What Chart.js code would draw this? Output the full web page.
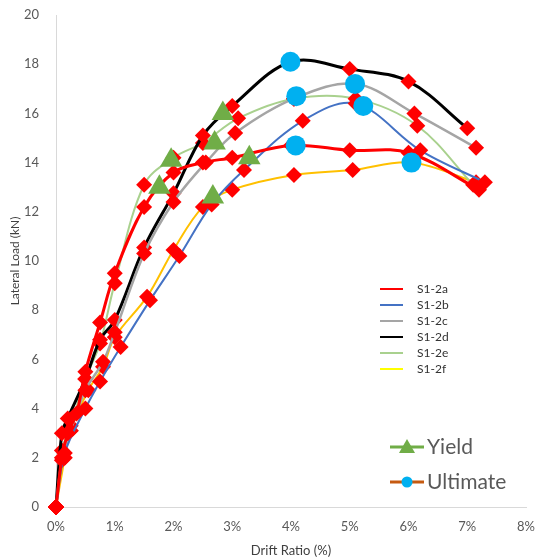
<!DOCTYPE html>
<html>
<head>
<meta charset="utf-8">
<script src="https://cdn.jsdelivr.net/npm/chart.js@4/dist/chart.umd.min.js"></script>
<style>
  html, body { margin: 0; padding: 0; background: #fff; }
  #wrap { width: 539px; height: 559px; }
</style>
</head>
<body>
<div id="wrap"><canvas id="chart" width="539" height="559"></canvas></div>
<script>
// drift ratio (%) and lateral load (kN) for each specimen
const seriesNames = ['S1-2a', 'S1-2b', 'S1-2c', 'S1-2d', 'S1-2e', 'S1-2f'];

const driftA = [0, 0.1, 0.2, 0.35, 0.5, 0.75, 1.0, 1.5, 2.0, 2.5, 3.0, 4.0, 5.0, 6.0, 7.2];
const loadA  = [0, 2.0, 3.0, 3.8, 5.5, 7.5, 9.5, 12.2, 13.6, 14.0, 14.2, 14.7, 14.5, 14.4, 12.9];

const driftB = [0, 0.15, 0.5, 0.75, 1.1, 1.6, 2.1, 2.65, 3.2, 4.2, 5.1, 6.2, 7.3];
const loadB  = [0, 2.2, 4.0, 5.1, 6.5, 8.4, 10.2, 12.3, 13.7, 15.7, 16.4, 14.5, 13.2];

const driftC = [0, 0.1, 0.25, 0.5, 0.8, 1.0, 1.5, 2.0, 2.55, 3.05, 4.05, 5.1, 6.1, 7.15];
const loadC  = [0, 1.9, 3.1, 4.75, 5.9, 7.1, 10.3, 12.4, 14.0, 15.2, 16.6, 17.2, 16.0, 14.6];

const driftD = [0, 0.1, 0.2, 0.5, 0.75, 1.0, 1.5, 2.0, 2.5, 3.0, 4.0, 5.0, 6.0, 7.0];
const loadD  = [0, 3.0, 3.6, 5.2, 6.8, 7.6, 10.55, 12.75, 15.1, 16.3, 18.1, 17.8, 17.3, 15.4];

const driftE = [0, 0.1, 0.25, 0.5, 0.75, 1.0, 1.5, 2.0, 2.5, 3.1, 4.05, 5.1, 6.15, 7.1];
const loadE  = [0, 2.3, 3.3, 5.2, 6.65, 9.1, 13.1, 14.2, 14.8, 15.8, 16.6, 16.6, 15.5, 13.1];

const driftF = [0, 0.15, 0.25, 0.55, 0.8, 1.0, 1.55, 2.0, 2.5, 3.0, 4.05, 5.05, 6.05, 7.15];
const loadF  = [0, 2.0, 3.1, 4.75, 5.7, 6.9, 8.55, 10.45, 12.2, 12.9, 13.5, 13.7, 14.0, 13.2];

const yieldDrift = [1.76, 1.96, 2.70, 2.67, 2.84, 3.29];
const yieldLoad  = [13.0, 14.1, 14.8, 12.6, 16.0, 14.2];

const ultDrift = [3.99, 4.09, 5.09, 5.23, 4.08, 6.05];
const ultLoad  = [18.1, 16.7, 17.2, 16.3, 14.7, 14.0];

const xTicks = [0, 1, 2, 3, 4, 5, 6, 7, 8];
const yTicks = [0, 2, 4, 6, 8, 10, 12, 14, 16, 18, 20];

const lineColors = ['#ff0000', '#4472c4', '#a5a5a5', '#000000', '#a9d18e', '#ffc000'];
const lineWidths = [3, 2, 2.5, 3, 2, 2];

function toPoints(xs, ys) {
    return xs.map((x, i) => ({ x: x, y: ys[i] }));
}

const curves = [
    [driftA, loadA], [driftB, loadB], [driftC, loadC],
    [driftD, loadD], [driftE, loadE], [driftF, loadF]
];

// draw order in the picture: gray under black, thick red on top of the light ones
const drawOrder = [4, 2, 3, 1, 5, 0];

let datasets = drawOrder.map(i => ({
    label: seriesNames[i],
    data: toPoints(curves[i][0], curves[i][1]),
    showLine: true,
    tension: 0.35,
    clip: false,
    borderColor: lineColors[i],
    borderWidth: lineWidths[i],
    pointStyle: 'rectRot',
    pointRadius: 8,
    pointBackgroundColor: '#ff0000',
    pointBorderColor: '#ff0000',
    pointBorderWidth: 0,
    order: 10 + i
}));

datasets.push({
    label: 'Yield',
    data: toPoints(yieldDrift, yieldLoad),
    showLine: false,
    clip: false,
    pointStyle: 'triangle',
    pointRadius: 13,
    pointBackgroundColor: '#70ad47',
    pointBorderColor: '#70ad47',
    pointBorderWidth: 0,
    borderColor: '#70ad47',
    order: 2
});
datasets.push({
    label: 'Ultimate',
    data: toPoints(ultDrift, ultLoad),
    showLine: false,
    clip: false,
    pointStyle: 'circle',
    pointRadius: 10,
    pointBackgroundColor: '#00b0f0',
    pointBorderColor: '#00b0f0',
    pointBorderWidth: 0,
    borderColor: '#c55a11',
    order: 1
});

// both legends sit inside the plot, drawn by hand
const legendPlugin = {
    id: 'insideLegends',
    afterDraw(chart) {
        const ctx = chart.ctx;
        ctx.save();
        // small series legend
        ctx.font = '12px Lato, "Liberation Sans", sans-serif';
        ctx.textBaseline = 'middle';
        ctx.textAlign = 'left';
        seriesNames.forEach((name, i) => {
            const y = 289 + i * 16;
            ctx.strokeStyle = i == 5 ? '#ffff00' : lineColors[i];
            ctx.lineWidth = 2;
            ctx.beginPath();
            ctx.moveTo(380, y);
            ctx.lineTo(403, y);
            ctx.stroke();
            ctx.fillStyle = '#333333';
            ctx.fillText(name, 417, y);
        });

        // yield / ultimate legend
        ctx.font = '21px Lato, "Liberation Sans", sans-serif';
        ctx.lineWidth = 3;
        ctx.strokeStyle = '#70ad47';
        ctx.beginPath();
        ctx.moveTo(390, 447);
        ctx.lineTo(424, 447);
        ctx.stroke();
        ctx.fillStyle = '#70ad47';
        ctx.beginPath();
        ctx.moveTo(407, 439);
        ctx.lineTo(415, 453);
        ctx.lineTo(399, 453);
        ctx.closePath();
        ctx.fill();
        ctx.fillStyle = '#595959';
        ctx.fillText('Yield', 427, 447);

        ctx.strokeStyle = '#c55a11';
        ctx.beginPath();
        ctx.moveTo(390, 482);
        ctx.lineTo(424, 482);
        ctx.stroke();
        ctx.fillStyle = '#00b0f0';
        ctx.beginPath();
        ctx.arc(407, 482, 5.5, 0, Math.PI * 2);
        ctx.fill();
        ctx.fillStyle = '#595959';
        ctx.fillText('Ultimate', 427, 482);
        ctx.restore();
    }
};

const tickFont = { family: 'Lato, "Liberation Sans", sans-serif', size: 13 };

new Chart(document.getElementById('chart'), {
    type: 'scatter',
    data: { datasets: datasets },
    options: {
        responsive: false,
        animation: false,
        layout: { padding: { top: 15, right: 13, left: 8, bottom: 0 } },
        plugins: {
            legend: { display: false },
            tooltip: { enabled: false }
        },
        scales: {
            x: {
                type: 'linear',
                min: 0,
                max: 8,
                afterBuildTicks: scale => { scale.ticks = xTicks.map(v => ({ value: v })); },
                ticks: {
                    callback: v => v + '%',
                    color: '#595959',
                    font: tickFont,
                    padding: 12,
                    maxRotation: 0
                },
                grid: { display: false, drawTicks: false },
                border: { display: true, color: '#d9d9d9', width: 1 },
                title: {
                    display: true,
                    text: 'Drift Ratio (%)',
                    color: '#404040',
                    font: { family: 'Lato, "Liberation Sans", sans-serif', size: 13 },
                    padding: { top: 2, bottom: 0 }
                },
                afterFit: scale => {
                    scale.height = 52;
                    scale.paddingLeft = 0;
                    scale.paddingRight = 0;
                }
            },
            y: {
                type: 'linear',
                min: 0,
                max: 20,
                afterBuildTicks: scale => { scale.ticks = yTicks.map(v => ({ value: v })); },
                ticks: {
                    color: '#595959',
                    font: tickFont,
                    padding: 17
                },
                grid: { display: false, drawTicks: false },
                border: { display: true, color: '#d9d9d9', width: 1 },
                title: {
                    display: true,
                    text: 'Lateral Load (kN)',
                    color: '#404040',
                    font: { family: 'Lato, "Liberation Sans", sans-serif', size: 12 },
                    padding: { top: 0, bottom: 0 }
                },
                afterFit: scale => {
                    scale.width = 48;
                    scale.paddingTop = 0;
                    scale.paddingBottom = 0;
                }
            }
        }
    },
    plugins: [legendPlugin]
});
</script>
</body>
</html>
